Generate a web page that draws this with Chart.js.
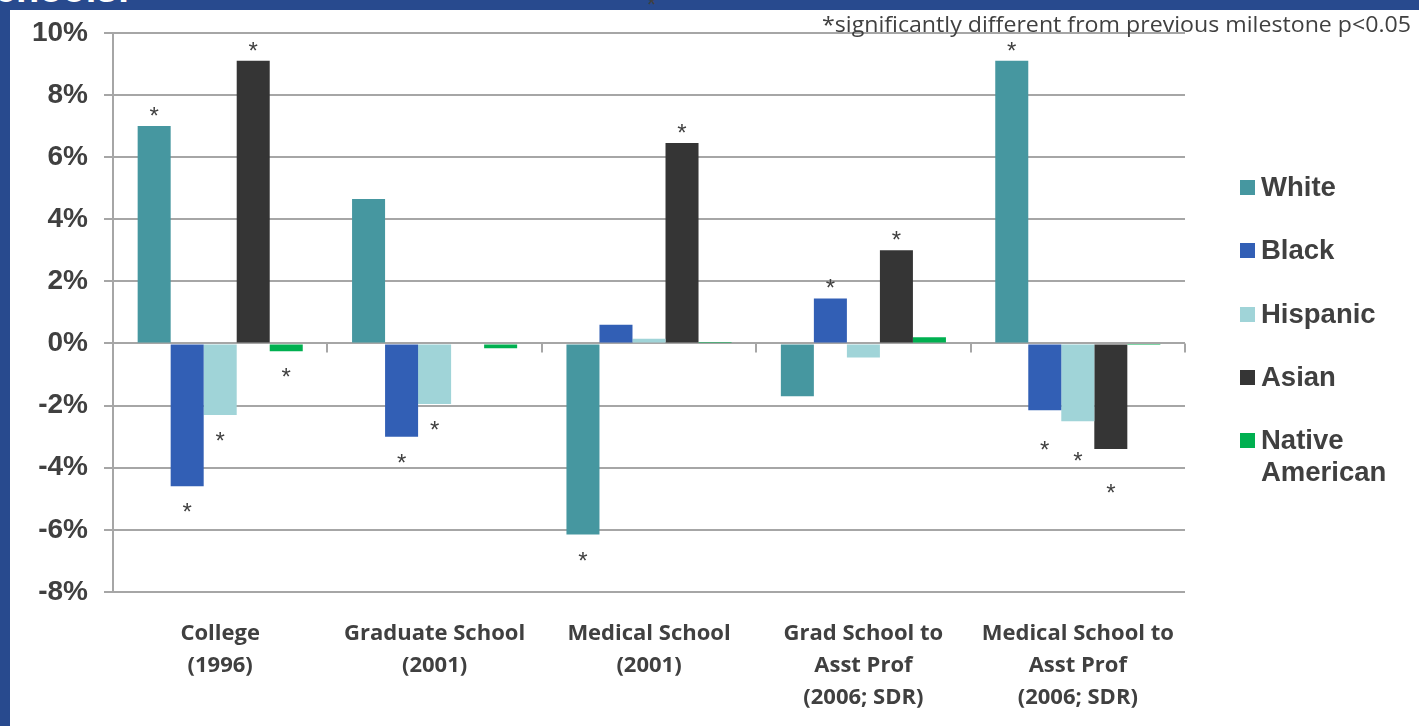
<!DOCTYPE html>
<html>
<head>
<meta charset="utf-8">
<script src="https://cdn.jsdelivr.net/npm/chart.js@4.4.1/dist/chart.umd.min.js"></script>
<style>
  html, body { margin: 0; padding: 0; width: 1419px; height: 726px; overflow: hidden; background: #fff; }
  .band-top { position: absolute; left: 0; top: 0; width: 1419px; height: 10px; background: #284a8e; overflow: hidden; }
  .band-left { position: absolute; left: 0; top: 0; width: 10px; height: 726px; background: #284a8e; }
  .title-cut { position: absolute; right: 1289px; top: -32px; color: #fff; font: bold 38px "Liberation Sans", Arial, sans-serif; white-space: nowrap; }
  .stray { position: absolute; left: 647px; top: -9px; color: #404040; font: 24px "Liberation Sans", Arial, sans-serif; }
  #wrap { position: absolute; left: 0; top: 0; width: 1419px; height: 726px; }
  #note { position: absolute; right: 8px; top: 10px; color: #404040; font: 21px "Liberation Sans Narrow", "Open Sans", sans-serif; white-space: nowrap; transform-origin: right center; }
  #legend { position: absolute; left: 1240px; top: 171px; width: 179px; }
  .row { height: 63.25px; display: flex; align-items: flex-start; }
  .box { width: 15px; height: 15px; margin-top: 9px; margin-right: 6px; flex: none; }
  .lbl { font: bold 27.5px "Liberation Sans", Arial, sans-serif; line-height: 32px; color: #404040; width: 156px; }
</style>
</head>
<body>
<div class="band-left"></div>
<div class="band-top"><span class="title-cut">Schools:</span><span class="stray">*</span></div>
<div id="wrap"><canvas id="chart" width="1419" height="726"></canvas></div>
<div id="note">*significantly different from previous milestone p&lt;0.05</div>
<div id="legend"></div>
<script>
// categories (milestones)
const milestones = [
  ['College', '(1996)'],
  ['Graduate School', '(2001)'],
  ['Medical School', '(2001)'],
  ['Grad School to', 'Asst Prof', '(2006; SDR)'],
  ['Medical School to', 'Asst Prof', '(2006; SDR)']
];

// change in share, percent
const white    = [7.0, 4.65, -6.15, -1.7, 9.1];
const black    = [-4.6, -3.0, 0.6, 1.45, -2.15];
const hispanic = [-2.3, -1.95, 0.15, -0.45, -2.5];
const asian    = [9.1, 0.03, 6.45, 3.0, -3.4];
const native   = [-0.25, -0.15, 0.05, 0.2, -0.05];

// 1 = significantly different from previous milestone
const sigWhite    = [1, 0, 1, 0, 1];
const sigBlack    = [1, 1, 0, 1, 1];
const sigHispanic = [1, 1, 0, 0, 1];
const sigAsian    = [1, 0, 1, 1, 1];
const sigNative   = [1, 0, 0, 0, 0];

const yTicks = [-8, -6, -4, -2, 0, 2, 4, 6, 8, 10];

const series = [
  { name: 'White', data: white, sig: sigWhite, color: '#4697a0' },
  { name: 'Black', data: black, sig: sigBlack, color: '#325fb5' },
  { name: 'Hispanic', data: hispanic, sig: sigHispanic, color: '#a0d4d8' },
  { name: 'Asian', data: asian, sig: sigAsian, color: '#353535' },
  { name: 'Native American', data: native, sig: sigNative, color: '#00b050' }
];

const gridColor = '#a6a6a6';
const textColor = '#404040';

// the last group's asterisks sit further below their bars in the slide
const starGap = (di, i, v) => {
  if (v >= 0) return -16;
  return i === milestones.length - 1 ? 34 + (di === 3 ? 4 : 0) : 20;
};

// asterisks above / below the significant bars
const starPlugin = {
  id: 'stars',
  afterDatasetsDraw(chart) {
    const ctx = chart.ctx;
    ctx.save();
    ctx.fillStyle = textColor;
    ctx.font = '24px "Liberation Sans", Arial, sans-serif';
    ctx.textAlign = 'center';
    ctx.textBaseline = 'alphabetic';
    chart.data.datasets.forEach((ds, di) => {
      const meta = chart.getDatasetMeta(di);
      meta.data.forEach((bar, i) => {
        if (!series[di].sig[i]) return;
        const cy = bar.y + starGap(di, i, ds.data[i]);
        ctx.fillText('*', bar.x, cy + 14);
      });
    });
    ctx.restore();
  }
};

// small tick marks on the zero line between the groups
const zeroTicks = {
  id: 'zeroTicks',
  afterDraw(chart) {
    const x = chart.scales.x, y = chart.scales.y;
    const y0 = y.getPixelForValue(0);
    const ctx = chart.ctx;
    ctx.save();
    ctx.strokeStyle = gridColor;
    ctx.lineWidth = 2;
    for (let i = 1; i <= milestones.length; i++) {
      const px = Math.round(x.getPixelForValue(i - 0.5));
      ctx.beginPath();
      ctx.moveTo(px, y0);
      ctx.lineTo(px, y0 + 9);
      ctx.stroke();
    }
    ctx.restore();
  }
};

const chart = new Chart(document.getElementById('chart'), {
  type: 'bar',
  data: {
    labels: milestones,
    datasets: series.map(s => ({
      label: s.name,
      data: s.data,
      backgroundColor: s.color,
      barPercentage: 1,
      categoryPercentage: 0.77
    }))
  },
  options: {
    responsive: false,
    animation: false,
    layout: { padding: { left: 10, right: 234, top: 32, bottom: 0 } },
    plugins: {
      legend: { display: false },
      tooltip: { enabled: false }
    },
    scales: {
      x: {
        grid: { display: false, drawTicks: false },
        border: { display: false },
        ticks: {
          color: textColor,
          padding: 26,
          font: { family: '"Liberation Sans Narrow", "Open Sans", sans-serif', size: 22, weight: 'bold', lineHeight: 32 / 22 }
        },
        afterFit(s) { s.height = 134; }
      },
      y: {
        min: -8,
        max: 10,
        afterBuildTicks(s) { s.ticks = yTicks.map(v => ({ value: v })); },
        grid: { color: gridColor, lineWidth: 2, tickLength: 9 },
        border: { color: gridColor, width: 2 },
        ticks: {
          color: textColor,
          padding: 16,
          callback: v => v + '%',
          font: { family: '"Liberation Sans", Arial, sans-serif', size: 28, weight: 'bold' }
        },
        afterFit(s) { s.width = 103; }
      }
    }
  },
  plugins: [starPlugin, zeroTicks]
});

// legend
const legend = document.getElementById('legend');
series.forEach(s => {
  const row = document.createElement('div');
  row.className = 'row';
  row.innerHTML = '<div class="box" style="background:' + s.color + '"></div><div class="lbl">' + s.name + '</div>';
  legend.appendChild(row);
});

// fit the footnote to its width in the picture
const note = document.getElementById('note');
note.style.transform = 'scaleX(' + (589 / note.offsetWidth) + ')';
</script>
</body>
</html>
